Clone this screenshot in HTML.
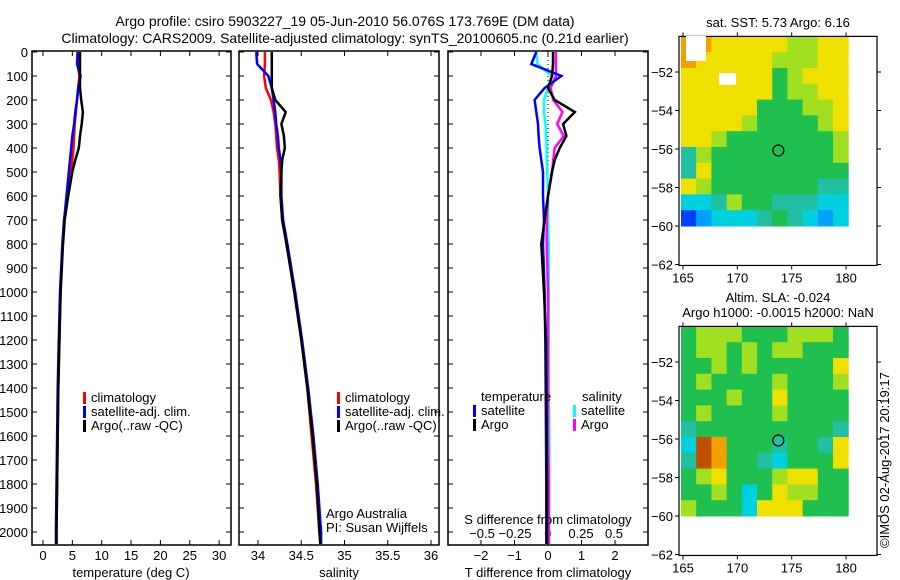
<!DOCTYPE html>
<html><head><meta charset="utf-8"><style>
body{margin:0;background:#fff;}
svg{display:block;font-family:"Liberation Sans",sans-serif;}
</style></head><body>
<svg id="s" width="900" height="580" viewBox="0 0 900 580">
<text x="345" y="26" font-size="14" text-anchor="middle">Argo profile: csiro 5903227_19 05-Jun-2010 56.076S 173.769E (DM data)</text>
<text x="345" y="43" font-size="14" text-anchor="middle">Climatology: CARS2009. Satellite-adjusted climatology: synTS_20100605.nc (0.21d earlier)</text>
<g id="g"></g>
</svg>
<script>
const depths=[0,50,100,150,200,250,300,350,400,450,500,600,700,800,1000,1200,1400,1600,1800,2000,2050];
const tArgo=[6.3,6.3,6.3,6.3,6.5,6.8,6.6,6.3,6.1,5.5,5.0,4.3,3.7,3.4,3.0,2.8,2.6,2.5,2.4,2.3,2.3];
const tClim=[6.1,5.9,6.2,6.0,5.8,5.6,5.4,5.3,5.2,5.0,4.8,4.2,3.6,3.3,3.0,2.8,2.6,2.5,2.4,2.3,2.3];
const tSat=[5.9,5.8,6.4,6.0,5.8,5.5,5.3,5.0,4.8,4.6,4.4,4.0,3.6,3.3,2.9,2.7,2.5,2.4,2.3,2.2,2.2];
const sArgo=[34.16,34.16,34.16,34.16,34.2,34.32,34.27,34.3,34.31,34.28,34.27,34.26,34.28,34.33,34.42,34.5,34.57,34.63,34.68,34.71,34.72];
const sClim=[34.08,34.08,34.07,34.09,34.15,34.18,34.2,34.21,34.22,34.24,34.25,34.26,34.28,34.33,34.42,34.5,34.57,34.62,34.67,34.71,34.72];
const sSat=[33.98,33.99,34.12,34.16,34.18,34.2,34.21,34.23,34.24,34.26,34.27,34.27,34.29,34.34,34.43,34.51,34.58,34.64,34.69,34.73,34.73];
const dTSat=[-0.35,-0.5,0.4,-0.1,-0.4,-0.35,-0.3,-0.28,-0.25,-0.2,-0.15,-0.15,-0.12,-0.15,-0.1,-0.08,-0.07,-0.06,-0.05,-0.05,-0.05];
const dTArgo=[0.15,0.15,0.12,0.0,0.2,0.8,0.45,0.55,0.35,0.2,0.12,0.0,-0.1,-0.2,-0.12,-0.06,-0.05,-0.04,-0.03,-0.03,-0.03];
const dSSat=[-0.09,-0.08,0.03,0.0,-0.03,-0.03,-0.02,-0.015,-0.01,-0.01,-0.005,0,0,0.005,0.005,0.005,0.005,0.01,0.01,0.01,0.01];
const dSArgo=[0.06,0.06,0.06,0.02,0.04,0.11,0.07,0.12,0.05,0.04,0.03,0,-0.01,-0.01,0,0,0,0,0.005,0.005,0.005];
const depthTicks=[0,100,200,300,400,500,600,700,800,900,1000,1100,1200,1300,1400,1500,1600,1700,1800,1900,2000];
const tTicks=[0,5,10,15,20,25,30];
const sTicks=[34,34.5,35,35.5,36];
const dTTicks=[-2,-1,0,1,2];
const dSTicks=[-0.5,-0.25,0,0.25,0.5];
const lonTicks=[165,170,175,180];
const latTicks=[-52,-54,-56,-58,-60,-62];
const sstGrid=["88777776677","87777766677","77777756777","77777756677","77777555667","77776555567","77655555556","46555555556","47555555555","76555555544","33465544433","12333454323"];
const slaGrid=["56665556665","56656566555","55656555557","56555565556","55565575555","56555565555","45555555554","39855545547","49855435557","56755567755","55653576655","65553777555"];
const cmap=["#0000a0","#0040ff","#00a0ff","#00d0e0","#20c0a0","#20c050","#a0e020","#f0e000","#f0a000","#c05000"];
const argoLon=173.769, argoLat=-56.076;

const NS="http://www.w3.org/2000/svg", G=document.getElementById('g');
function mk(t,a,p){const e=document.createElementNS(NS,t);for(const k in a)e.setAttribute(k,a[k]);(p||G).appendChild(e);return e;}
const yD=d=>52+0.24*d;
function box(x0,x1,name){const r=mk('rect',{x:x0,y:51,width:x1-x0,height:494,fill:'none',stroke:'#000','stroke-width':1.5});

}
function line(xs,xf,col,name,w){const pts=depths.map((d,i)=>xf(xs[i]).toFixed(1)+','+yD(d).toFixed(1)).join(' ');
const p=mk('polyline',{points:pts,fill:'none',stroke:col,'stroke-width':w||2.5});

}
function txt(x,y,s,o){const t=mk('text',Object.assign({x:x,y:y,'font-size':13},o||{}));t.textContent=s;

return t;}
function xticks(vals,xf,y0,y1,lab,ly){vals.forEach(v=>{const x=xf(v);mk('line',{x1:x,x2:x,y1:y1,y2:y1-5,stroke:'#000'});mk('line',{x1:x,x2:x,y1:y0,y2:y0+5,stroke:'#000'});
if(lab)txt(x,ly,String(v).replace('-','\u2212'),{'text-anchor':'middle'});});}
function yticks(x0,x1,lab){depthTicks.forEach(d=>{const y=yD(d);mk('line',{x1:x0,x2:x0+5,y1:y,y2:y,stroke:'#000'});mk('line',{x1:x1,x2:x1-5,y1:y,y2:y,stroke:'#000'});
if(lab)txt(28,y+5,String(d),{'text-anchor':'end'});});}
function legend(x,y,items){items.forEach((it,i)=>{mk('rect',{x:x,y:y+i*14-10,width:3,height:12,fill:it[0]});txt(x+8,y+i*14,it[1]);});}

// Panel 1 temperature
const xT=t=>43+5.87*t;
box(32,231,'temperature-panel');yticks(32,231,true);xticks(tTicks,xT,51,545,true,560);
line(tClim,xT,'#f00','clim-temp');line(tSat,xT,'#00f','sat-temp');line(tArgo,xT,'#000','argo-temp');
txt(131,577,'temperature (deg C)',{'text-anchor':'middle'});
legend(83,402,[['#f00','climatology'],['#00f','satellite-adj. clim.'],['#000','Argo(..raw -QC)']]);

// Panel 2 salinity
const xS=s=>258+86.5*(s-34);
box(239,439,'salinity-panel');yticks(239,439,false);xticks(sTicks,xS,51,545,true,560);
line(sClim,xS,'#f00','clim-sal');line(sSat,xS,'#00f','sat-sal');line(sArgo,xS,'#000','argo-sal');
txt(339,577,'salinity',{'text-anchor':'middle'});
legend(337,402,[['#f00','climatology'],['#00f','satellite-adj. clim.'],['#000','Argo(..raw -QC)']]);
txt(326,518,'Argo Australia');txt(326,532,'PI: Susan Wijffels');

// Panel 3 differences
const xdT=v=>548+33.5*v, xdS=v=>548+132*v;
box(448,648,'difference-panel');yticks(448,648,false);xticks(dTTicks,xdT,51,545,true,560);
dSTicks.forEach(v=>{txt(xdS(v),538,String(v).replace('-','\u2212'),{'text-anchor':'middle'});});
mk('line',{x1:548,x2:548,y1:52,y2:545,stroke:'#000','stroke-dasharray':'1,3'});
line(dSSat,xdS,'#0ff','sat-sal-diff');line(dSArgo,xdS,'#f0f','argo-sal-diff');
line(dTSat,xdT,'#00f','sat-temp-diff');line(dTArgo,xdT,'#000','argo-temp-diff');
txt(548,577,'T difference from climatology',{'text-anchor':'middle'});
txt(548,524,'S difference from climatology',{'text-anchor':'middle'});
txt(481,401,'temperature');txt(582,401,'salinity');
legend(473,415,[['#00f','satellite'],['#000','Argo']]);
legend(573,415,[['#0ff','satellite'],['#f0f','Argo']]);

// Maps
function map(oy,grid,title1,title2,name){
const xL=l=>683+10.87*(l-165), yL=l=>oy+72+19.25*(-52-l);
const top=yL(-50.15), bot=yL(-62.05);
const cw=(xL(180.2)-681)/11, ch=(yL(-60)-top)/12;
grid.forEach((row,r)=>{for(let c=0;c<row.length;c++){const e=mk('rect',{x:681+c*cw,y:top+r*ch,width:cw+0.5,height:ch+0.5,fill:cmap[+row[c]]});

}});
const b=mk('rect',{x:679,y:top,width:198,height:bot-top,fill:'none',stroke:'#000','stroke-width':1.2});


lonTicks.forEach(l=>{const x=xL(l);mk('line',{x1:x,x2:x,y1:top,y2:top-4,stroke:'#000'});mk('line',{x1:x,x2:x,y1:bot,y2:bot+4,stroke:'#000'});txt(x,bot+17,String(l),{'text-anchor':'middle'});});
latTicks.forEach(l=>{const y=yL(l);mk('line',{x1:679,x2:675,y1:y,y2:y,stroke:'#000'});mk('line',{x1:877,x2:881,y1:y,y2:y,stroke:'#000'});txt(673,y+5,String(l).replace('-','\u2212'),{'text-anchor':'end'});});
const c=mk('circle',{cx:xL(argoLon),cy:yL(argoLat),r:5.5,fill:'none',stroke:'#000','stroke-width':1.2});


if(title2){txt(778,oy+12,title1,{'text-anchor':'middle'});txt(778,oy+27,title2,{'text-anchor':'middle'});}
else txt(778,oy+27,title1,{'text-anchor':'middle'});
}
map(0,sstGrid,'sat. SST: 5.73 Argo: 6.16',null,'sst-map');
map(290,slaGrid,'Altim. SLA: -0.024','Argo h1000: -0.0015 h2000: NaN','sla-map');
// white patches on SST
mk('rect',{x:686,y:36,width:20,height:25,fill:'#fff'});mk('rect',{x:719,y:73,width:17,height:12,fill:'#fff'});
txt(889,548,'\u00a9IMOS 02-Aug-2017 20:19:17',{transform:'rotate(-90 889 548)'});
</script>
</body></html>
